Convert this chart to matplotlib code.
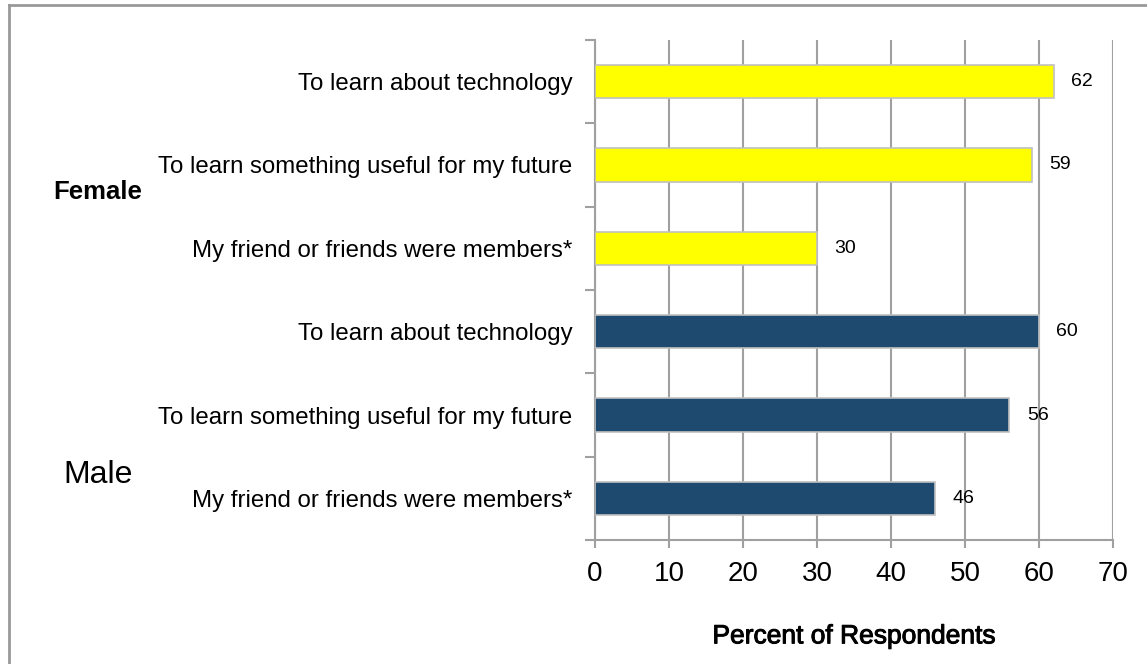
import matplotlib.pyplot as plt
import matplotlib.patheffects as pe
from matplotlib.lines import Line2D
import numpy as np

plt.rcParams['font.family'] = ['Liberation Sans', 'DejaVu Sans']

# reasons for joining, bottom to top
reasons = [
    "My friend or friends were members*",
    "To learn something useful for my future",
    "To learn about technology",
]
male = [46, 56, 60]
female = [30, 59, 62]

labels = reasons + reasons
values = male + female
colors = ["#1f4a70"] * 3 + ["#ffff00"] * 3

fig = plt.figure(figsize=(11.47, 6.64), dpi=100)
ax = fig.add_axes([0.5187, 0.1867, 0.4517, 0.7531])

y = np.arange(len(values))
ax.barh(y, values, height=0.4, color=colors, edgecolor="#c0c0c0",
        linewidth=1.2, zorder=3)

for yi, v in zip(y, values):
    ax.annotate(str(v), (v, yi), xytext=(12.5, 0), textcoords="offset points",
                va="center", ha="left", fontsize=14, zorder=4)

ax.set_xlim(0, 70)
ax.set_ylim(-0.5, len(values) - 0.5)
ax.set_xticks(range(0, 71, 10))
ax.tick_params(axis="x", labelsize=20, length=6, color="#a0a0a0", width=1.5, pad=9)

ax.set_yticks(y)
ax.set_yticklabels(labels, fontsize=17.3)
ax.set_yticks(np.arange(-0.5, len(values), 1.0), minor=True)
ax.tick_params(axis="y", which="major", length=0, pad=16)
ax.tick_params(axis="y", which="minor", length=7, color="#a0a0a0", width=1.5)

ax.grid(axis="x", color="#a0a0a0", linewidth=1.5, zorder=0)
for side in ["top", "right"]:
    ax.spines[side].set_visible(False)
for side in ["left", "bottom"]:
    ax.spines[side].set_color("#a0a0a0")
    ax.spines[side].set_linewidth(1.5)

xl = ax.set_xlabel("Percent of Respondents", fontsize=19, labelpad=27)
xl.set_path_effects([pe.withStroke(linewidth=0.7, foreground="black")])

fig.text(0.046, 0.711, "Female", fontsize=18.5, fontweight="bold", va="center")
fig.text(0.055, 0.285, "Male", fontsize=23, va="center")

# chart frame (top and left edges)
fig.add_artist(Line2D([0.0075, 0.0075], [0, 0.992], transform=fig.transFigure,
                      color="#999999", linewidth=2))
fig.add_artist(Line2D([0.0075, 1.0], [0.992, 0.992], transform=fig.transFigure,
                      color="#999999", linewidth=2))

fig.savefig("out.png", dpi=100)
